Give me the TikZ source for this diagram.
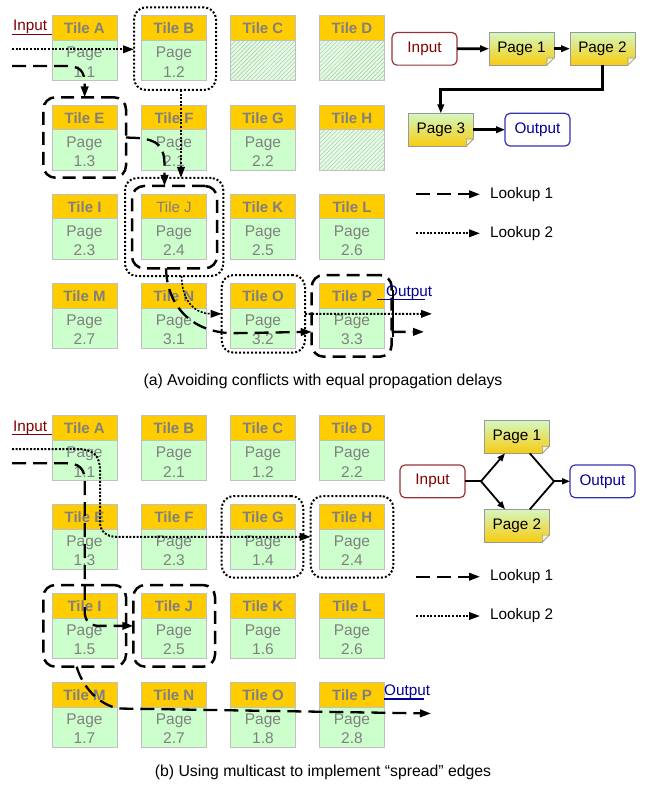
\documentclass[tikz,border=0pt]{standalone}
\usepackage{fontspec}
\setmainfont{Liberation Sans}
\usetikzlibrary{arrows.meta,patterns.meta,calc}
\definecolor{tileorange}{HTML}{FFCC00}
\definecolor{tilegreen}{HTML}{CCFFCC}
\definecolor{tileborder}{HTML}{C0C0C0}
\definecolor{tiletext}{HTML}{808080}
\definecolor{hatchbg}{HTML}{EAF8EA}
\definecolor{hatchline}{HTML}{A0D8A0}
\definecolor{intext}{HTML}{800000}
\definecolor{inborder}{HTML}{993333}
\definecolor{outtext}{HTML}{000099}
\definecolor{outborder}{HTML}{3333AA}
\definecolor{pagetop}{HTML}{D4F7C0}
\definecolor{pagebot}{HTML}{F8CC10}
\definecolor{pageborder}{HTML}{999999}
\definecolor{foldcol}{HTML}{F4F4D8}
\newcommand\tileP[5]{\node[hdr] (#1h) at (#2,#3) {Tile #4};
  \node[bdy] (#1b) at (#2,#3+24.5) {};
  \node[bodytxt] (#1t) at ([yshift=-1.5pt]#1b.center) {Page\\#5};}
\newcommand\tilePL[5]{\node[hdr,font=\fontsize{15}{18}\selectfont] (#1h) at (#2,#3) {Tile #4};
  \node[bdy] (#1b) at (#2,#3+24.5) {};
  \node[bodytxt] (#1t) at ([yshift=-1.5pt]#1b.center) {Page\\#5};}
\newcommand\tileH[4]{\node[hdr] (#1h) at (#2,#3) {Tile #4};
  \node[hatchbdy] (#1b) at (#2,#3+24.5) {};}
\newcommand\rbox[6]{\node[#1, minimum width={(#5)-(#3)}, minimum height={(#6)-(#4)}] (#2) at ({((#3)+(#5))/2},{((#4)+(#6))/2}) {};}
\begin{document}
\begin{tikzpicture}[x=1pt,y=-1pt,
  every node/.style={font=\fontsize{15.3}{18}\selectfont},
  hdr/.style={draw=tileborder, line width=1pt, fill=tileorange, minimum width=65pt, minimum height=24.5pt, inner sep=0pt, outer sep=0pt, anchor=north west, text=tiletext, font=\bfseries\fontsize{15}{18}\selectfont},
  bdy/.style={draw=tileborder, line width=1pt, fill=tilegreen, minimum width=65pt, minimum height=40.5pt, inner sep=0pt, outer sep=0pt, anchor=north west},
  bodytxt/.style={inner sep=0pt, text=tiletext, align=center, font=\fontsize{15.5}{19.5}\selectfont},
  hatchbdy/.style={bdy, preaction={fill=hatchbg}, pattern={Lines[angle=45,distance=3pt,line width=0.6pt]}, pattern color=hatchline},
  dashbox/.style={draw, line width=2.5pt, dash pattern=on 13pt off 7pt, rounded corners=12pt, inner sep=0pt, outer sep=0pt},
  dotbox/.style={draw, line width=2pt, dash pattern=on 2pt off 2pt, rounded corners=12pt, inner sep=0pt, outer sep=0pt},
  lkA/.style={line width=2.3pt, dash pattern=on 14pt off 7pt, -{Triangle[length=11pt,width=7.5pt]}},
  lkB/.style={line width=2pt, dash pattern=on 2pt off 1.6pt, -{Triangle[length=11pt,width=7.5pt]}},
  io/.style={draw, rounded corners=5pt, minimum width=65pt, minimum height=32.7pt, inner sep=0pt, outer sep=0pt, line width=1.2pt},
  inbox/.style={io, draw=inborder, text=intext},
  outbox/.style={io, draw=outborder, text=outtext},
  pagebox/.style={draw=pageborder, line width=1pt, top color=pagetop, bottom color=pagebot, minimum width=65pt, minimum height=32.7pt, inner sep=0pt, outer sep=0pt},
  flowA/.style={line width=2.7pt, -{Triangle[length=9pt,width=6.5pt]}},
  flowB/.style={line width=1.8pt, -{Triangle[length=8pt,width=6pt]}},
  lbl/.style={inner sep=0pt, anchor=base west},
  caption/.style={font=\fontsize{15.8}{19}\selectfont},
  ]
\useasboundingbox (0,0) rectangle (646,794);

% ---------------- panel (a) tiles
\tileP{tA}{52}{16}{A}{1.1}
\tileP{tB}{141.5}{16}{B}{1.2}
\tileH{tC}{230.5}{16}{C}
\tileH{tD}{319.5}{16}{D}
\tileP{tE}{52}{105.5}{E}{1.3}
\tileP{tF}{141.5}{105.5}{F}{2.1}
\tileP{tG}{230.5}{105.5}{G}{2.2}
\tileH{tH}{319.5}{105.5}{H}
\tileP{tI}{52}{194.5}{I}{2.3}
\tilePL{tJ}{141.5}{194.5}{J}{2.4}
\tileP{tK}{230.5}{194.5}{K}{2.5}
\tileP{tL}{319.5}{194.5}{L}{2.6}
\tileP{tM}{52}{283.5}{M}{2.7}
\tileP{tN}{141.5}{283.5}{N}{3.1}
\tileP{tO}{230.5}{283.5}{O}{3.2}
\tileP{tP}{319.5}{283.5}{P}{3.3}

% ---------------- panel (b) tiles
\tileP{bA}{52}{415.7}{A}{1.1}
\tileP{bB}{141.5}{415.7}{B}{2.1}
\tileP{bC}{230.5}{415.7}{C}{1.2}
\tileP{bD}{319.5}{415.7}{D}{2.2}
\tileP{bE}{52}{504.5}{E}{1.3}
\tileP{bF}{141.5}{504.5}{F}{2.3}
\tileP{bG}{230.5}{504.5}{G}{1.4}
\tileP{bH}{319.5}{504.5}{H}{2.4}
\tileP{bI}{52}{593.5}{I}{1.5}
\tileP{bJ}{141.5}{593.5}{J}{2.5}
\tileP{bK}{230.5}{593.5}{K}{1.6}
\tileP{bL}{319.5}{593.5}{L}{2.6}
\tileP{bM}{52}{682.5}{M}{1.7}
\tileP{bN}{141.5}{682.5}{N}{2.7}
\tileP{bO}{230.5}{682.5}{O}{1.8}
\tileP{bP}{319.5}{682.5}{P}{2.8}

% ---------------- rounded group boxes
\rbox{dotbox}{rB}{134}{7.3}{216}{90}
\rbox{dashbox}{rE}{43.3}{97.3}{126}{177.7}
\rbox{dotbox}{rJo}{125}{178}{223.3}{276}
\rbox{dashbox}{rJd}{132}{186}{217}{268.3}
\rbox{dotbox}{rO}{221.7}{275}{305}{352.7}
\rbox{dashbox}{rP}{311.7}{275}{391.7}{356.7}

\rbox{dotbox}{rGb}{221.7}{496}{303.3}{577.7}
\rbox{dotbox}{rHb}{310.7}{496}{393.3}{577.7}
\rbox{dashbox}{rIb}{43.3}{585}{126}{666.7}
\rbox{dashbox}{rJb}{133.3}{585}{215}{666.7}

% ---------------- Input / Output labels (a)
\node[lbl, text=intext] (inA) at (13,31) {Input};
\coordinate (inAl) at (12,34.3);
\draw[intext, line width=1.3pt] (inAl) -- (inAl -| tAh.west);
\node[lbl, text=outtext] (outA) at (386,296) {Output};
\coordinate (outAl) at (376.7,299.3);
\coordinate (outAr) at (425,299.3);
\draw[outtext, line width=1.3pt] (outAl) -- (outAr);
\coordinate (stubT) at (392.7,290);
\coordinate (stubB) at (392.7,337);
\draw[line width=2.3pt] (stubT) -- (stubB);

% ---------------- lookup paths (a)
\coordinate (sA2) at (12,49.3);
\draw[lkB] (sA2) -- (sA2 -| rB.west);
\draw[lkB] ([xshift=6pt]rB.south) -- ([xshift=6pt]rB.south |- rJo.north);
\draw[lkB, line width=1.6pt] ([xshift=7.5pt]rJo.south) .. controls +(0,26) and +(-26,0) .. (rO.west);
\coordinate (eA2) at (432,313.85);
\draw[lkB] (rO.east) -- (eA2);

\coordinate (sA1) at (12,66);
\draw[lkA] (sA1) -- ++(53,0) .. controls +(15,0) and +(0,-15) .. ([yshift=12pt]rE.north) -- (rE.north);
\draw[lkA] (rE.east) -- ++(12,0.5) .. controls +(20,2) and +(0,-20) .. ([xshift=-10pt,yshift=20pt]rJd.north) -- ([xshift=-10pt]rJd.north);
\coordinate (mA1) at (232,333.2);
\draw[lkA] ([xshift=-8.5pt]rJd.south) .. controls +(1,38) and +(-40,-1) .. (mA1) -- ([yshift=-16pt]rP.west);
\coordinate (eA1) at (424,331.85);
\draw[lkA] ([yshift=-16pt]rP.east) -- (eA1);

% ---------------- legend (a)
\coordinate (lgA1) at (416,194.3);
\coordinate (lgA1e) at (480,194.3);
\draw[lkA] (lgA1) -- (lgA1e);
\node[anchor=west, inner sep=0pt] (lgA1t) at (490,194.3) {Lookup 1};
\coordinate (lgA2) at (416,233.3);
\coordinate (lgA2e) at (480,233.3);
\draw[lkB] (lgA2) -- (lgA2e);
\node[anchor=west, inner sep=0pt] (lgA2t) at (490,233.3) {Lookup 2};

% ---------------- flow (a)
\node[inbox] (fIn) at (424.5,48.8) {Input};
\node[pagebox] (fP1) at (521.5,48.7) {Page 1};
\node[pagebox] (fP2) at (602.5,48.7) {Page 2};
\node[pagebox] (fP3) at (440.8,129.7) {Page 3};
\node[outbox] (fOut) at (537.5,129.7) {Output};
\draw[flowA] (fIn) -- (fP1);
\draw[flowA] (fP1) -- (fP2);
\coordinate (fBend) at (440.8,89.3);
\draw[flowA] (fP2.south) |- (fBend) -- (fP3.north);
\draw[flowA] (fP3) -- (fOut);

% ---------------- Input / Output labels (b)
\node[lbl, text=intext] (inB) at (13,431) {Input};
\coordinate (inBl) at (12,434.3);
\draw[intext, line width=1.3pt] (inBl) -- (inBl -| bAh.west);
\node[lbl, text=outtext] (outB) at (384,695) {Output};
\coordinate (outBl) at (384,699);
\coordinate (outBr) at (424,699);
\draw[outtext, line width=1.3pt] (outBl) -- (outBr);

% ---------------- lookup paths (b)
\coordinate (sB2) at (12,449);
\draw[lkB] (sB2) -- (77,449) .. controls (92,449) and (100,455) .. (100,470) -- (100,522) .. controls (100,531) and (106,536.85) .. (117,536.85) -- (rHb.west);
\coordinate (sB1) at (12,463.3);
\draw[lkA] (sB1) -- (66.7,463.3) .. controls (78,463.3) and (84.65,468) .. (84.65,480) -- (84.65,611) .. controls (84.65,620) and (89,625.85) .. (99,625.85) -- (rJb.west);
\coordinate (mB1) at (118,708.5);
\coordinate (eB1) at (431,713.5);
\draw[lkA] ([xshift=-8pt]rIb.south) .. controls +(4,14) and +(-25,-6) .. (mB1) -- (eB1);

% ---------------- legend (b)
\coordinate (lgB1) at (416,576.7);
\coordinate (lgB1e) at (480,576.7);
\draw[lkA] (lgB1) -- (lgB1e);
\node[anchor=west, inner sep=0pt] (lgB1t) at (490,576.7) {Lookup 1};
\coordinate (lgB2) at (416,616);
\coordinate (lgB2e) at (480,616);
\draw[lkB] (lgB2) -- (lgB2e);
\node[anchor=west, inner sep=0pt] (lgB2t) at (490,616) {Lookup 2};

% ---------------- flow (b)
\node[inbox] (gIn) at (432.5,481.3) {Input};
\node[pagebox] (gP1) at (516.8,437) {Page 1};
\node[pagebox] (gP2) at (516.8,525.7) {Page 2};
\node[outbox] (gOut) at (602.5,481.3) {Output};
\coordinate (gSplit) at (481,481.3);
\coordinate (gJoin) at (554,481.3);
\draw[line width=1.8pt] (gIn) -- (gSplit);
\draw[flowB] (gSplit) -- ([xshift=-11.8pt]gP1.south);
\draw[flowB] (gSplit) -- ([xshift=-11.8pt]gP2.north);
\draw[line width=1.8pt] ([xshift=13pt]gP1.south) -- (gJoin);
\draw[line width=1.8pt] ([xshift=13pt]gP2.north) -- (gJoin);
\draw[flowB] (gJoin) -- (gOut);

% folded corners of page notes
\foreach \p in {fP1,fP2,fP3,gP1,gP2}{
  \fill[white] ([xshift=0.8pt,yshift=-0.8pt]\p.south east) -- ([xshift=-7pt,yshift=-0.8pt]\p.south east) -- ([xshift=0.8pt,yshift=7pt]\p.south east) -- cycle;
  \filldraw[fill=foldcol, draw=pageborder, line width=0.6pt] ([xshift=-7pt]\p.south east) -- ([yshift=7pt]\p.south east) -- ([xshift=-7pt,yshift=7pt]\p.south east) -- cycle;
}

% ---------------- captions
\node[caption] (capA) at (323,381) {(a) Avoiding conflicts with equal propagation delays};
\node[caption] (capB) at (323,772) {(b) Using multicast to implement “spread” edges};
\end{tikzpicture}
\end{document}
